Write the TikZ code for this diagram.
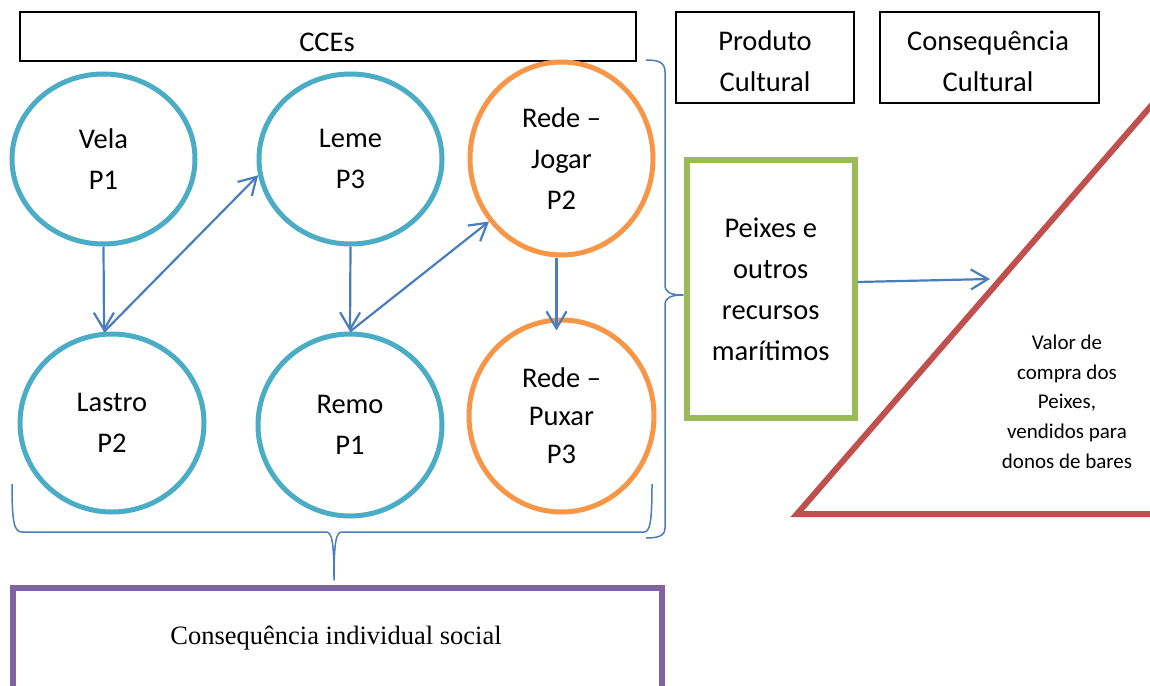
\documentclass[tikz,border=0pt]{standalone}
\usepackage{fontspec}
\setmainfont{Carlito}
\newfontfamily\serifface{Liberation Serif}
\usetikzlibrary{arrows.meta,shapes.geometric}

\definecolor{ringteal}{HTML}{4BACC6}
\definecolor{ringorange}{HTML}{F79646}
\definecolor{boxgreen}{HTML}{9BBB59}
\definecolor{boxpurple}{HTML}{8064A2}
\definecolor{trired}{HTML}{C0504D}
\definecolor{linkblue}{HTML}{4A7EBB}

\begin{document}
\begin{tikzpicture}[x=1pt,y=-1pt,
  bigtext/.style={font=\fontsize{28.5}{41}\selectfont, align=center, inner sep=0pt},
  headbox/.style={draw=black, line width=1.8pt, inner sep=0pt},
  ring/.style={ellipse, line width=5pt, bigtext},
  tealring/.style={ring, draw=ringteal},
  orangering/.style={ring, draw=ringorange},
  link/.style={draw=linkblue, line width=2.2pt, -{Straight Barb[length=17pt,width=20pt,line width=2.2pt]}},
  bracket/.style={draw=linkblue, line width=1.5pt, line join=round},
]
\useasboundingbox (0,0) rectangle (1150,685);
\fill[white] (0,0) rectangle (1150,685);

% header boxes
\node[headbox, minimum width=616pt, minimum height=49pt] (cces) at (328,36.5) {};
\node[bigtext] (ccesT) at (327,42) {CCEs};
\node[headbox, minimum width=178pt, minimum height=91pt] (prod) at (765,57.5) {};
\node[bigtext] (prodT) at (765,61.5) {Produto\\Cultural};
\node[headbox, minimum width=219pt, minimum height=91pt] (cons) at (989.5,57.5) {};
\node[bigtext] (consT) at (988,61.5) {Consequência\\Cultural};

% the six CCE circles
\node[tealring, minimum width=183pt, minimum height=170pt] (vela) at (103.5,159) {Vela\\P1};
\node[tealring, minimum width=183pt, minimum height=170pt] (leme) at (350.5,159) {Leme\\P3};
\node[orangering, minimum width=183pt, minimum height=193pt] (jogar) at (561.5,158.5) {Rede –\\Jogar\\P2};
\node[tealring, minimum width=184pt, minimum height=178pt] (lastro) at (112,423) {Lastro\\P2};
\node[tealring, minimum width=184pt, minimum height=182pt] (remo) at (350,425) {Remo\\P1};
\node[orangering, minimum width=185pt, minimum height=192pt, font=\fontsize{28.5}{38}\selectfont] (puxar) at (561.5,416) {Rede –\\Puxar\\P3};

% cultural product
\node[draw=boxgreen, line width=6pt, minimum width=167.5pt, minimum height=258pt, bigtext] (peixes) at (770.75,289) {Peixes e\\outros\\recursos\\marítimos};

% individual social consequence
\node[draw=boxpurple, line width=6pt, minimum width=649pt, minimum height=160pt, inner sep=0pt] (social) at (337.5,668) {};
\node[font=\serifface\fontsize{26.5}{32}\selectfont, inner sep=0pt] (socialT) at (336,638) {Consequência individual social};

% cultural consequence triangle
\begin{scope}
  \clip (0,0) rectangle (1150,685);
  \draw[trired, line width=6pt, line join=miter] (797,514) -- (1170,514) -- (1170,84) -- cycle;
\end{scope}
\coordinate (hit) at (990,279);
\node[font=\fontsize{21}{29.7}\selectfont, align=center, inner sep=0pt] (valor) at (1067,401.5)
  {Valor de\\compra dos\\Peixes,\\vendidos para\\donos de bares};

% sequence arrows
\draw[link] (vela.south) -- (lastro.95);
\draw[link] (lastro.95) -- (leme.190);
\draw[link] (leme.south) -- (remo.north);
\draw[link] (remo.north) -- (jogar.221);
\draw[link] ([xshift=-5pt]jogar.south) -- ([xshift=-5pt,yshift=-13pt]puxar.north);
\draw[link] ([yshift=7pt]peixes.east) -- (hit);

% braces
\draw[bracket] (12,484) .. controls (12,522) and (14,532) .. (22,532) -- (326,532)
  .. controls (332,532) and (334,542) .. (334,580)
  .. controls (334,542) and (336,532) .. (342,532) -- (644,532)
  .. controls (650,532) and (652,522) .. (652,484);
\draw[bracket] (646,60) .. controls (658,60) and (665,62) .. (665,72) -- (665,285)
  .. controls (665,292) and (670,295) .. (683,295)
  .. controls (670,295) and (665,298) .. (665,305) -- (665,528)
  .. controls (665,536) and (658,538) .. (646,538);
\end{tikzpicture}
\end{document}
